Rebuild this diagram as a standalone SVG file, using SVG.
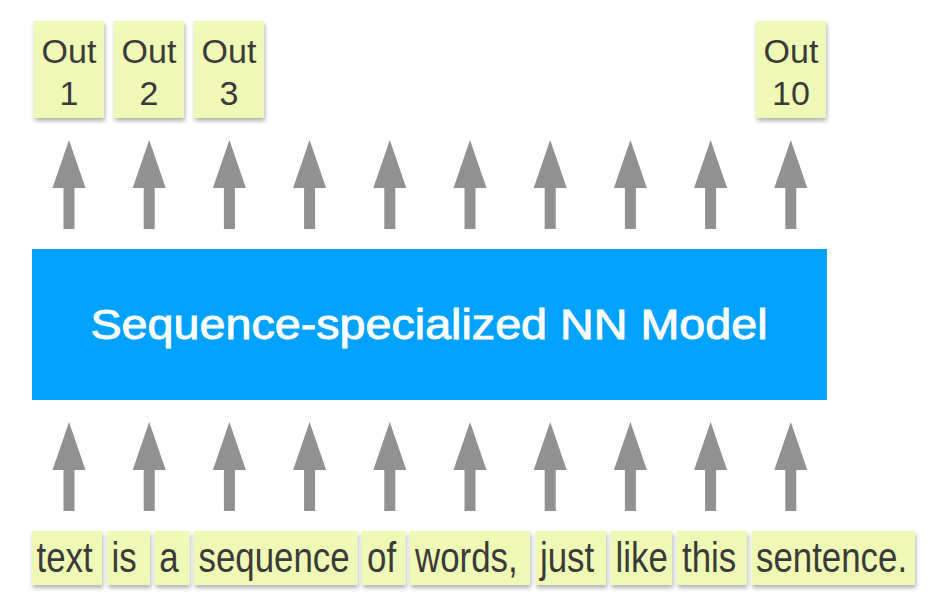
<svg xmlns="http://www.w3.org/2000/svg" xmlns:xlink="http://www.w3.org/1999/xlink" width="930" height="604" viewBox="0 0 930 604">
  <style>
    .note { fill: #F0F8B6; filter: url(#shadow); }
    .lbl { font-family: "Liberation Sans", Arial, sans-serif; fill: #3a3a3a; }
    .out { font-size: 34px; text-anchor: middle; }
    .word { font-size: 42px; }
    .arrow { fill: #919191; }
    .model { fill: #00A2FF; }
    .mtxt { font-family: "Liberation Sans", Arial, sans-serif; font-size: 42px; fill: #ffffff; stroke: #ffffff; stroke-width: 0.9px; text-anchor: middle; }
  </style>
  <defs>
    <filter id="shadow" x="-20%" y="-20%" width="140%" height="150%">
      <feDropShadow dx="1" dy="3" stdDeviation="2" flood-color="#000" flood-opacity="0.3"/>
    </filter>
    <path id="arr" d="M0,0 L16.5,48 L5.5,48 L5.5,89 L-5.5,89 L-5.5,48 L-16.5,48 Z"/>
  </defs>
  <rect width="930" height="604" fill="#ffffff"/>

  <g id="connectors" class="arrow">
    <use xlink:href="#arr" x="69" y="140"/>
    <use xlink:href="#arr" x="149.2" y="140"/>
    <use xlink:href="#arr" x="229.4" y="140"/>
    <use xlink:href="#arr" x="309.6" y="140"/>
    <use xlink:href="#arr" x="389.8" y="140"/>
    <use xlink:href="#arr" x="470" y="140"/>
    <use xlink:href="#arr" x="550.2" y="140"/>
    <use xlink:href="#arr" x="630.4" y="140"/>
    <use xlink:href="#arr" x="710.6" y="140"/>
    <use xlink:href="#arr" x="790.8" y="140"/>
    <use xlink:href="#arr" x="69" y="422"/>
    <use xlink:href="#arr" x="149.2" y="422"/>
    <use xlink:href="#arr" x="229.4" y="422"/>
    <use xlink:href="#arr" x="309.6" y="422"/>
    <use xlink:href="#arr" x="389.8" y="422"/>
    <use xlink:href="#arr" x="470" y="422"/>
    <use xlink:href="#arr" x="550.2" y="422"/>
    <use xlink:href="#arr" x="630.4" y="422"/>
    <use xlink:href="#arr" x="710.6" y="422"/>
    <use xlink:href="#arr" x="790.8" y="422"/>
  </g>

  <g id="model">
    <rect class="model" x="32" y="249" width="795" height="151"/>
    <text class="mtxt" x="429" y="338.5" textLength="677" lengthAdjust="spacingAndGlyphs">Sequence-specialized NN Model</text>
  </g>

  <g id="out1">
    <rect class="note" x="34" y="21" width="70" height="97"/>
    <text class="lbl out" x="69" y="62.5">Out</text>
    <text class="lbl out" x="69" y="105">1</text>
  </g>
  <g id="out2">
    <rect class="note" x="114" y="21" width="70" height="97"/>
    <text class="lbl out" x="149" y="62.5">Out</text>
    <text class="lbl out" x="149" y="105">2</text>
  </g>
  <g id="out3">
    <rect class="note" x="194" y="21" width="70" height="97"/>
    <text class="lbl out" x="229" y="62.5">Out</text>
    <text class="lbl out" x="229" y="105">3</text>
  </g>
  <g id="out10">
    <rect class="note" x="756" y="21" width="70" height="97"/>
    <text class="lbl out" x="791" y="62.5">Out</text>
    <text class="lbl out" x="791" y="105">10</text>
  </g>

  <g id="w-text">
    <rect class="note" x="32" y="531" width="70" height="54"/>
    <text class="lbl word" transform="translate(36.5,572) scale(0.83,1)">text</text>
  </g>
  <g id="w-is">
    <rect class="note" x="107.3" y="531" width="42.7" height="54"/>
    <text class="lbl word" transform="translate(111.5,572) scale(0.83,1)">is</text>
  </g>
  <g id="w-a">
    <rect class="note" x="155" y="531" width="34.3" height="54"/>
    <text class="lbl word" transform="translate(159.3,572) scale(0.83,1)">a</text>
  </g>
  <g id="w-sequence">
    <rect class="note" x="194" y="531" width="163.3" height="54"/>
    <text class="lbl word" transform="translate(198.5,572) scale(0.83,1)">sequence</text>
  </g>
  <g id="w-of">
    <rect class="note" x="362" y="531" width="43.3" height="54"/>
    <text class="lbl word" transform="translate(367,572) scale(0.83,1)">of</text>
  </g>
  <g id="w-words">
    <rect class="note" x="410" y="531" width="120" height="54"/>
    <text class="lbl word" transform="translate(415,572) scale(0.83,1)">words,</text>
  </g>
  <g id="w-just">
    <rect class="note" x="535.7" y="531" width="70.3" height="54"/>
    <text class="lbl word" transform="translate(540,572) scale(0.83,1)">just</text>
  </g>
  <g id="w-like">
    <rect class="note" x="610.7" y="531" width="61.3" height="54"/>
    <text class="lbl word" transform="translate(615.5,572) scale(0.83,1)">like</text>
  </g>
  <g id="w-this">
    <rect class="note" x="676.7" y="531" width="70" height="54"/>
    <text class="lbl word" transform="translate(682,572) scale(0.83,1)">this</text>
  </g>
  <g id="w-sentence">
    <rect class="note" x="751.7" y="531" width="163.3" height="54"/>
    <text class="lbl word" transform="translate(756,572) scale(0.83,1)">sentence.</text>
  </g>
</svg>
